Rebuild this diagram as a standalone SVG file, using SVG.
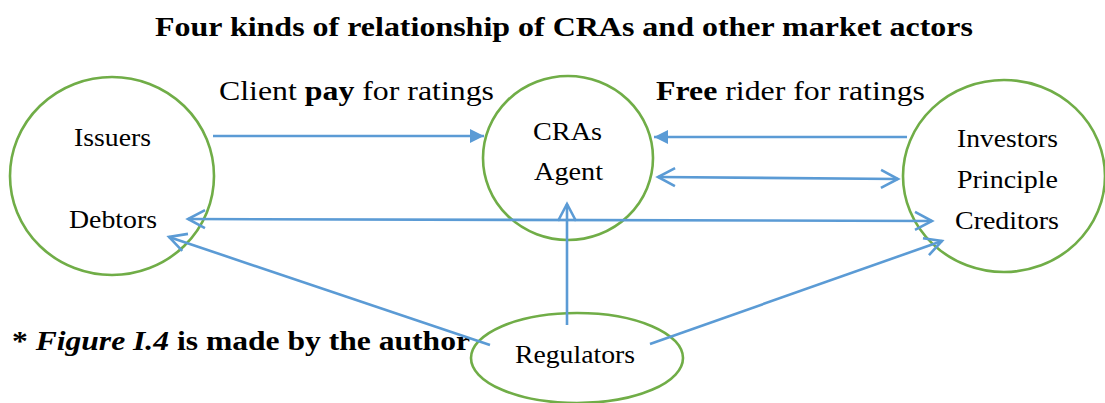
<svg xmlns="http://www.w3.org/2000/svg" width="1105" height="403" viewBox="0 0 1105 403">
<style>
text{font-family:'Liberation Serif','Times New Roman','DejaVu Serif',serif;fill:#000}
.t{font-size:28px;font-weight:bold}
.lbl{font-size:28px}
.nd{font-size:26px}
.node{fill:none;stroke:#70AD47;stroke-width:2.6}
.c{stroke:#5B9BD5;stroke-width:2.6;fill:none}
</style>
<defs>
<marker id="open" markerUnits="userSpaceOnUse" viewBox="-20 -12 24 24" refX="0" refY="0" markerWidth="24" markerHeight="24" orient="auto-start-reverse">
<path d="M-17,-9 L0,0 L-17,9" fill="none" stroke="#5B9BD5" stroke-width="2.6"/>
</marker>
<marker id="fill" markerUnits="userSpaceOnUse" viewBox="-16 -9 18 18" refX="0" refY="0" markerWidth="18" markerHeight="18" orient="auto">
<path d="M-14,-7 L0,0 L-14,7 Z" fill="#5B9BD5"/>
</marker>
</defs>
<text class="t" x="155" y="36" textLength="818" lengthAdjust="spacingAndGlyphs">Four kinds of relationship of CRAs and other market actors</text>
<g id="issuers">
<ellipse class="node" cx="112" cy="176" rx="102" ry="99"/>
<text class="nd" x="74" y="146" textLength="77" lengthAdjust="spacingAndGlyphs">Issuers</text>
<text class="nd" x="69" y="228" textLength="88" lengthAdjust="spacingAndGlyphs">Debtors</text>
</g>
<g id="cras">
<ellipse class="node" cx="568" cy="158" rx="85" ry="82"/>
<text class="nd" x="533" y="140" textLength="69" lengthAdjust="spacingAndGlyphs">CRAs</text>
<text class="nd" x="534" y="180" textLength="69" lengthAdjust="spacingAndGlyphs">Agent</text>
</g>
<g id="investors">
<ellipse class="node" cx="1004" cy="176" rx="101" ry="96"/>
<text class="nd" x="957" y="147" textLength="101" lengthAdjust="spacingAndGlyphs">Investors</text>
<text class="nd" x="957" y="188" textLength="101" lengthAdjust="spacingAndGlyphs">Principle</text>
<text class="nd" x="955" y="229" textLength="104" lengthAdjust="spacingAndGlyphs">Creditors</text>
</g>
<g id="regulators">
<ellipse class="node" cx="577" cy="358" rx="106" ry="45"/>
<text class="nd" x="515" y="363" textLength="120" lengthAdjust="spacingAndGlyphs">Regulators</text>
</g>
<g id="labels">
<text class="lbl" x="219" y="100" textLength="275" lengthAdjust="spacingAndGlyphs">Client <tspan font-weight="bold">pay</tspan> for ratings</text>
<text class="lbl" x="656" y="100" textLength="269" lengthAdjust="spacingAndGlyphs"><tspan font-weight="bold">Free</tspan> rider for ratings</text>
<text class="t" x="12" y="350" textLength="458" lengthAdjust="spacingAndGlyphs">* <tspan font-style="italic">Figure I.4</tspan> is made by the author</text>
</g>
<g id="connectors">
<line class="c" x1="213" y1="136" x2="484" y2="136" marker-end="url(#fill)"/>
<line class="c" x1="907" y1="137" x2="654" y2="137" marker-end="url(#fill)"/>
<line class="c" x1="658" y1="177" x2="898" y2="179" marker-start="url(#open)" marker-end="url(#open)"/>
<line class="c" x1="188" y1="219" x2="932" y2="221" marker-start="url(#open)" marker-end="url(#open)"/>
<line class="c" x1="490" y1="345" x2="169" y2="237" marker-end="url(#open)"/>
<line class="c" x1="567" y1="325" x2="567" y2="204" marker-end="url(#open)"/>
<line class="c" x1="650" y1="344" x2="942" y2="241" marker-end="url(#open)"/>
</g>
</svg>
